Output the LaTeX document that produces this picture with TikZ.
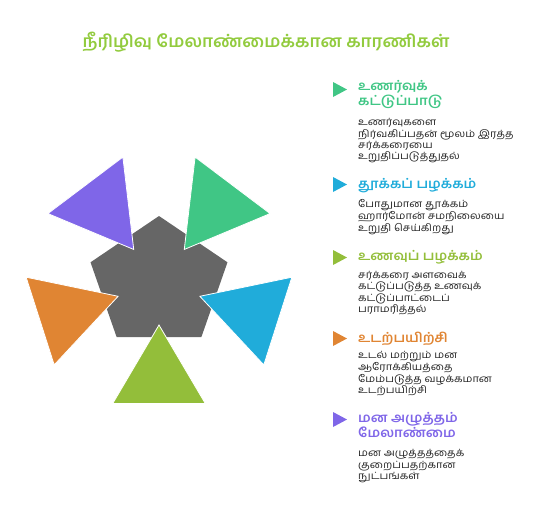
\documentclass[tikz,border=0pt]{standalone}
\usepackage{fontspec}
\setmainfont[Script=Tamil]{Hind Madurai}
\newfontfamily\titlefont[Script=Tamil, FakeStretch=1.04]{Hind Madurai}
\newfontfamily\headfont[Script=Tamil, FakeStretch=1.07]{Hind Madurai}
\newfontfamily\descfont[Script=Tamil, FakeStretch=1.11]{Hind Madurai}
\usetikzlibrary{calc}
\definecolor{cgreen}{HTML}{40C685}
\definecolor{cblue}{HTML}{20ACDA}
\definecolor{clime}{HTML}{93BE3A}
\definecolor{corange}{HTML}{E08533}
\definecolor{cpurple}{HTML}{7F66E8}
\definecolor{cgray}{HTML}{666666}
\definecolor{ctitle}{HTML}{92CB3E}
\definecolor{ctext}{HTML}{222222}
\tikzset{
  petal/.style={draw=white, line width=0.8pt, line join=miter},
  headtext/.style={anchor=north west, inner sep=0pt, align=left, font=\headfont\fontsize{13}{14.7}\selectfont\bfseries},
  desctext/.style={anchor=north west, inner sep=0pt, align=left, text=ctext, font=\descfont\fontsize{10}{11.3}\selectfont}
}
\begin{document}
\begin{tikzpicture}[x=1pt, y=-1pt]
        \useasboundingbox (0,0) rectangle (535,528);

        % --- Titolo ---
        \node[text=ctitle, font=\titlefont\fontsize{17}{19}\selectfont\bfseries] (title) at (266,42) {நீரிழிவு மேலாண்மைக்கான காரணிகள்};

        % centro del pentagono
        \coordinate (O) at (159,283);

        % pentagono centrale
        \fill[cgray] ($(O)+(-90:72 and 67)$) -- ($(O)+(-18:72 and 67)$) -- ($(O)+(54:72 and 67)$)
              -- ($(O)+(126:72 and 67)$) -- ($(O)+(198:72 and 67)$) -- cycle;

        % triangoli attorno al pentagono
        \filldraw[petal, fill=cgreen]  ($(O)+(-53:42)$) -- ($(O)+(-74:131)$) -- ($(O)+(-32:131)$) -- cycle;
        \filldraw[petal, fill=cblue]   ($(O)+(18:43)$) -- ($(O)+(-2.5:133)$) -- ($(O)+(38:133)$) -- cycle;
        \filldraw[petal, fill=clime]   ($(O)+(90:42)$) -- ($(O)+(69:129)$) -- ($(O)+(111:129)$) -- cycle;
        \filldraw[petal, fill=corange] ($(O)+(162:43)$) -- ($(O)+(142:133)$) -- ($(O)+(182.5:133)$) -- cycle;
        \filldraw[petal, fill=cpurple] ($(O)+(233:42)$) -- ($(O)+(212:131)$) -- ($(O)+(254:131)$) -- cycle;

        % --- Legenda a destra ---
        % marcatori
        \fill[cgreen]  (333,82) -- (347,89.5) -- (333,97) -- cycle;
        \fill[cblue]   (333,177) -- (347,184.5) -- (333,192) -- cycle;
        \fill[clime]   (333,250) -- (347,257.5) -- (333,265) -- cycle;
        \fill[corange] (333,331) -- (347,338.5) -- (333,346) -- cycle;
        \fill[cpurple] (333,412) -- (347,419.5) -- (333,427) -- cycle;

        % titoli delle voci
        \node[headtext, text=cgreen]  (h1) at (358,80)    {உணர்வுக்\\கட்டுப்பாடு};
        \node[headtext, text=cblue]   (h2) at (358,178.5) {தூக்கப் பழக்கம்};
        \node[headtext, text=clime]   (h3) at (358,250.5) {உணவுப் பழக்கம்};
        \node[headtext, text=corange] (h4) at (358,331.5) {உடற்பயிற்சி};
        \node[headtext, text=cpurple] (h5) at (358,412.5) {மன அழுத்தம்\\மேலாண்மை};

        % descrizioni
        \node[desctext] (d1) at (358,118.5) {உணர்வுகளை\\நிர்வகிப்பதன் மூலம் இரத்த\\சர்க்கரையை\\உறுதிப்படுத்துதல்};
        \node[desctext] (d2) at (358,199)   {போதுமான தூக்கம்\\ஹார்மோன் சமநிலையை\\உறுதி செய்கிறது};
        \node[desctext] (d3) at (358,271)   {சர்க்கரை அளவைக்\\கட்டுப்படுத்த உணவுக்\\கட்டுப்பாட்டைப்\\பராமரித்தல்};
        \node[desctext] (d4) at (358,351)   {உடல் மற்றும் மன\\ஆரோக்கியத்தை\\மேம்படுத்த வழக்கமான\\உடற்பயிற்சி};
        \node[desctext] (d5) at (358,449.5) {மன அழுத்தத்தைக்\\குறைப்பதற்கான\\நுட்பங்கள்};
    \end{tikzpicture}
\end{document}
